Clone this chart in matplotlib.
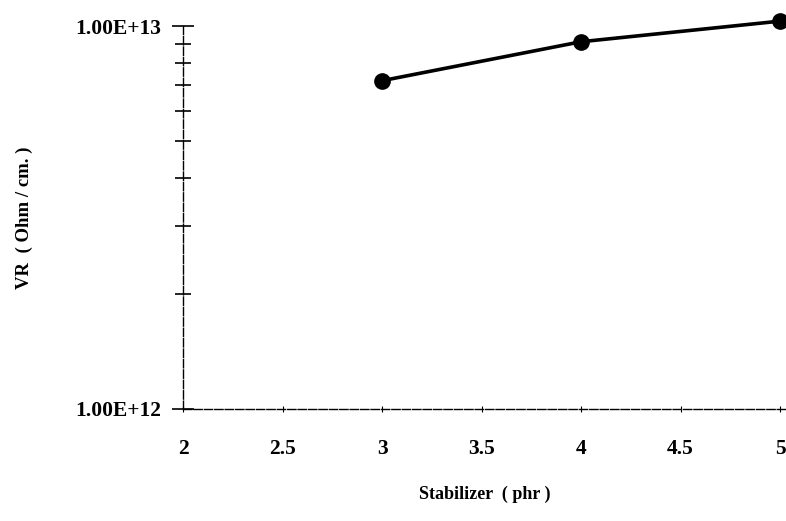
import matplotlib
matplotlib.use("Agg")
import matplotlib.pyplot as plt
from matplotlib.ticker import FixedLocator, LogLocator, NullFormatter

# volume resistivity vs stabilizer loading
stabilizer = [3, 4, 5]
vr = [7.2e12, 9.1e12, 1.03e13]
x_ticks = [2, 2.5, 3, 3.5, 4, 4.5, 5]
x_tick_labels = ["2", "2.5", "3", "3.5", "4", "4.5", "5"]
y_ticks = [1e12, 1e13]
y_tick_labels = ["1.00E+12", "1.00E+13"]


def main():
    plt.rcParams["font.family"] = ["Liberation Serif", "DejaVu Serif"]
    plt.rcParams["font.weight"] = "bold"

    fig = plt.figure(figsize=(7.86, 5.21), dpi=100)
    ax = fig.add_axes([0.233, 0.215, 0.767, 0.735])

    ax.plot(stabilizer, vr, color="black", lw=2.6, marker="o", ms=11,
            clip_on=False, zorder=5)

    ax.set_yscale("log")
    ax.set_ylim(1e12, 1e13)
    ax.set_xlim(2, 5.03)

    ax.yaxis.set_major_locator(FixedLocator(y_ticks))
    ax.set_yticklabels(y_tick_labels)
    ax.yaxis.set_minor_locator(LogLocator(base=10, subs=range(2, 10)))
    ax.yaxis.set_minor_formatter(NullFormatter())
    ax.set_xticks(x_ticks)
    ax.set_xticklabels(x_tick_labels)

    for side in ["top", "right"]:
        ax.spines[side].set_visible(False)
    for side in ["left", "bottom"]:
        ax.spines[side].set_linewidth(1.0)
        ax.spines[side].set_linestyle((0, (6, 1.5)))

    ax.tick_params(axis="y", which="major", direction="inout", length=16,
                   width=1.2, pad=8, labelsize=15.5)
    ax.tick_params(axis="y", which="minor", direction="inout", length=12,
                   width=1.2)
    ax.tick_params(axis="x", which="major", direction="inout", length=5,
                   width=0.8, pad=19, labelsize=15.5)

    ax.set_xlabel("Stabilizer  ( phr )", fontsize=13, fontweight="bold",
                  labelpad=19)
    ax.set_ylabel("VR  ( Ohm / cm. )", fontsize=13.5, fontweight="bold",
                  labelpad=30)

    fig.savefig("out.png", dpi=100)


if __name__ == "__main__":
    main()
